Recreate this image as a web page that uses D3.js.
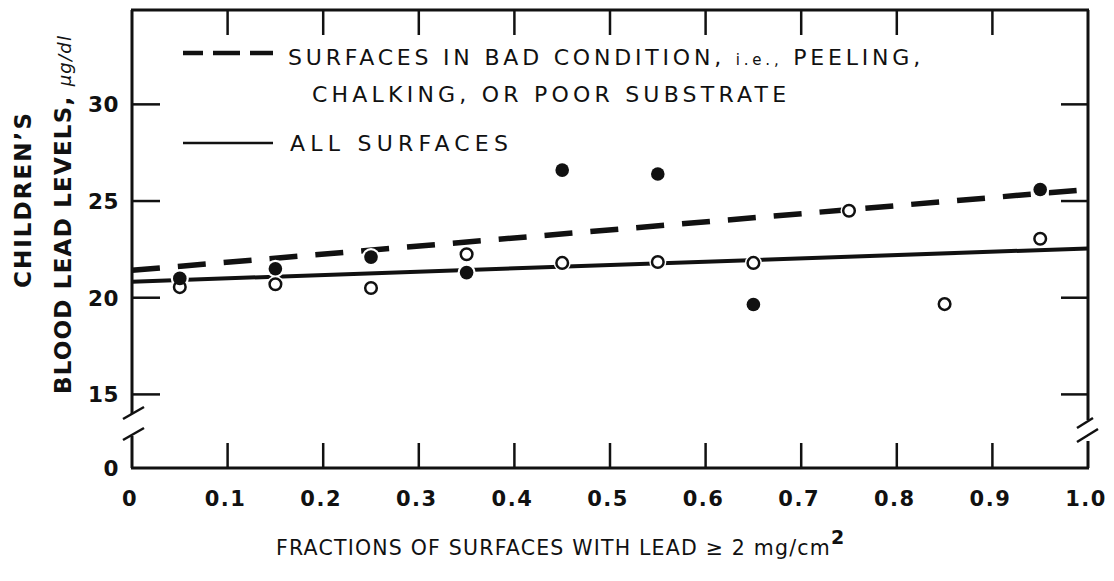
<!DOCTYPE html>
<html><head><meta charset="utf-8">
<script src="https://cdn.jsdelivr.net/npm/d3@7"></script>
<style>
body{margin:0;background:#fff;}
text{font-family:"DejaVu Sans",sans-serif;fill:#111;}
</style></head>
<body><svg id="c" width="1114" height="581"></svg>
<script>
// ---- data ----
const xTicks = [0,0.1,0.2,0.3,0.4,0.5,0.6,0.7,0.8,0.9,1.0];
const xTickLabels = ["0","0.1","0.2","0.3","0.4","0.5","0.6","0.7","0.8","0.9","1.0"];
const yTicks = [0,15,20,25,30];
const yTickLabels = ["0","15","20","25","30"];
const filledX = [0.05,0.15,0.25,0.35,0.45,0.55,0.65,0.95];
const filledY = [21.0,21.5,22.1,21.3,26.6,26.4,19.65,25.6];
const openX = [0.05,0.15,0.25,0.35,0.45,0.55,0.65,0.75,0.85,0.95];
const openY = [20.55,20.7,20.5,22.25,21.8,21.85,21.8,24.5,19.67,23.05];
const lineX = [0,1];
const badConditionLine = [21.42,25.6];
const allSurfacesLine = [20.83,22.55];
const legendLabels = ["SURFACES IN BAD CONDITION, ", "i.e.,", " PEELING,", "CHALKING, OR POOR SUBSTRATE", "ALL SURFACES"];

const svg = d3.select("#c");
const x = d3.scaleLinear().domain([0,1]).range([132,1088]);
const y = d3.scaleLinear().domain([0,15,34.88]).range([468,394.4,10]);
const K = "#111";

function fit(sel, w){
  const n = sel.node().getNumberOfChars();
  const nat = sel.node().getComputedTextLength();
  sel.attr("letter-spacing", ((w-nat)/Math.max(1,n-1)).toFixed(2)+"px");
}

// frame
const g = svg.append("g");
const X0 = x(0), X1 = x(1), Y0 = y(0), YT = y(34.88);
g.append("line").attr("x1",X0-1).attr("x2",X1+1).attr("y1",YT).attr("y2",YT).attr("stroke",K).attr("stroke-width",3);
g.append("line").attr("x1",X0-1).attr("x2",X1+1).attr("y1",Y0).attr("y2",Y0).attr("stroke",K).attr("stroke-width",3);
// left axis with break
g.append("line").attr("x1",X0).attr("x2",X0).attr("y1",YT).attr("y2",414).attr("stroke",K).attr("stroke-width",3);
g.append("line").attr("x1",X0).attr("x2",X0).attr("y1",436).attr("y2",Y0).attr("stroke",K).attr("stroke-width",3);
g.append("line").attr("x1",X0-9).attr("x2",X0+12).attr("y1",419).attr("y2",407).attr("stroke",K).attr("stroke-width",2.5);
g.append("line").attr("x1",X0-9).attr("x2",X0+12).attr("y1",440).attr("y2",428).attr("stroke",K).attr("stroke-width",2.5);
// right axis with break
g.append("line").attr("x1",X1).attr("x2",X1).attr("y1",YT).attr("y2",420).attr("stroke",K).attr("stroke-width",3);
g.append("line").attr("x1",X1).attr("x2",X1).attr("y1",441).attr("y2",Y0).attr("stroke",K).attr("stroke-width",3);
g.append("line").attr("x1",X1-11).attr("x2",X1+5).attr("y1",428).attr("y2",418).attr("stroke",K).attr("stroke-width",2.5);
g.append("line").attr("x1",X1-11).attr("x2",X1+10).attr("y1",442).attr("y2",429).attr("stroke",K).attr("stroke-width",2.5);

// x ticks (top and bottom, inward)
const inner = xTicks.slice(1,-1);
g.selectAll(".xt").data(inner).join("line").attr("x1",d=>x(d)).attr("x2",d=>x(d)).attr("y1",YT).attr("y2",YT+25).attr("stroke",K).attr("stroke-width",2.5);
g.selectAll(".xb").data(inner).join("line").attr("x1",d=>x(d)).attr("x2",d=>x(d)).attr("y1",Y0).attr("y2",Y0-25).attr("stroke",K).attr("stroke-width",2.5);
// y ticks (left and right, inward) for 15..30
const yt = yTicks.filter(d=>d>0);
g.selectAll(".yl").data(yt).join("line").attr("x1",X0).attr("x2",X0+28).attr("y1",d=>y(d)).attr("y2",d=>y(d)).attr("stroke",K).attr("stroke-width",2.5);
g.selectAll(".yr").data(yt).join("line").attr("x1",X1).attr("x2",X1-27).attr("y1",d=>y(d)).attr("y2",d=>y(d)).attr("stroke",K).attr("stroke-width",2.5);

// tick labels
g.selectAll(".xl").data(xTicks).join("text").attr("x",d=>x(d)-2).attr("y",506)
  .attr("text-anchor","middle").attr("font-size",21).attr("font-weight","bold").attr("letter-spacing","1.5px")
  .text((d,i)=>xTickLabels[i]);
g.selectAll(".ylab").data(yTicks).join("text").attr("x",119).attr("y",d=>y(d)+8)
  .attr("text-anchor","end").attr("font-size",21.5).attr("font-weight","bold").attr("letter-spacing","0.5px")
  .text((d,i)=>yTickLabels[i]);

// regression lines
const ln = d3.line().x(d=>x(d[0])).y(d=>y(d[1]));
g.append("path").attr("d",ln(lineX.map((v,i)=>[v,allSurfacesLine[i]]))).attr("fill","none").attr("stroke",K).attr("stroke-width",4);
g.append("path").attr("d",ln(lineX.map((v,i)=>[v,badConditionLine[i]]))).attr("fill","none").attr("stroke",K).attr("stroke-width",5.5)
  .attr("stroke-dasharray","28,18");

// points
const openPts = openX.map((v,i)=>[v,openY[i]]);
const filledPts = filledX.map((v,i)=>[v,filledY[i]]);
g.selectAll(".oh").data(openPts).join("circle").attr("cx",d=>x(d[0])).attr("cy",d=>y(d[1])).attr("r",8.5).attr("fill","#fff");
g.selectAll(".fh").data(filledPts).join("circle").attr("cx",d=>x(d[0])).attr("cy",d=>y(d[1])).attr("r",9).attr("fill","#fff");
g.selectAll(".op").data(openPts).join("circle").attr("cx",d=>x(d[0])).attr("cy",d=>y(d[1])).attr("r",5.8).attr("fill","#fff").attr("stroke",K).attr("stroke-width",2.5);
g.selectAll(".fp").data(filledPts).join("circle").attr("cx",d=>x(d[0])).attr("cy",d=>y(d[1])).attr("r",6.8).attr("fill",K);

// legend
g.append("path").attr("d","M183,53H203M213,53H240M250,53H273").attr("stroke",K).attr("stroke-width",4.5);
g.append("line").attr("x1",183).attr("x2",273).attr("y1",143).attr("y2",143).attr("stroke",K).attr("stroke-width",2.5);
const t1 = g.append("text").attr("x",288).attr("y",65).attr("font-size",22);
t1.append("tspan").text(legendLabels[0]);
t1.append("tspan").attr("font-size",15).text(legendLabels[1]);
t1.append("tspan").text(legendLabels[2]);
fit(t1,632);
const t2 = g.append("text").attr("x",312).attr("y",102).attr("font-size",22).text(legendLabels[3]);
fit(t2,474);
const t3 = g.append("text").attr("x",290).attr("y",151).attr("font-size",22).text(legendLabels[4]);
fit(t3,218);

// axis titles
const xt = g.append("text").attr("x",276).attr("y",555).attr("font-size",20.5);
xt.append("tspan").text("FRACTIONS OF SURFACES WITH LEAD ≥ 2 mg/cm");
xt.append("tspan").attr("font-size",19).attr("dy",-11).attr("font-weight","bold").text("2");
fit(xt,568);

const y1 = g.append("text").attr("transform","translate(31,288) rotate(-90)").attr("font-size",23).attr("font-weight","bold").text("CHILDREN’S");
fit(y1,175);
const y2 = g.append("text").attr("transform","translate(71,394) rotate(-90)").attr("font-size",23).attr("font-weight","bold");
y2.append("tspan").text("BLOOD LEAD LEVELS, ");
y2.append("tspan").attr("font-size",18).attr("font-weight","normal").attr("font-style","italic").text("μg/dl");
fit(y2,358);
</script></body></html>
